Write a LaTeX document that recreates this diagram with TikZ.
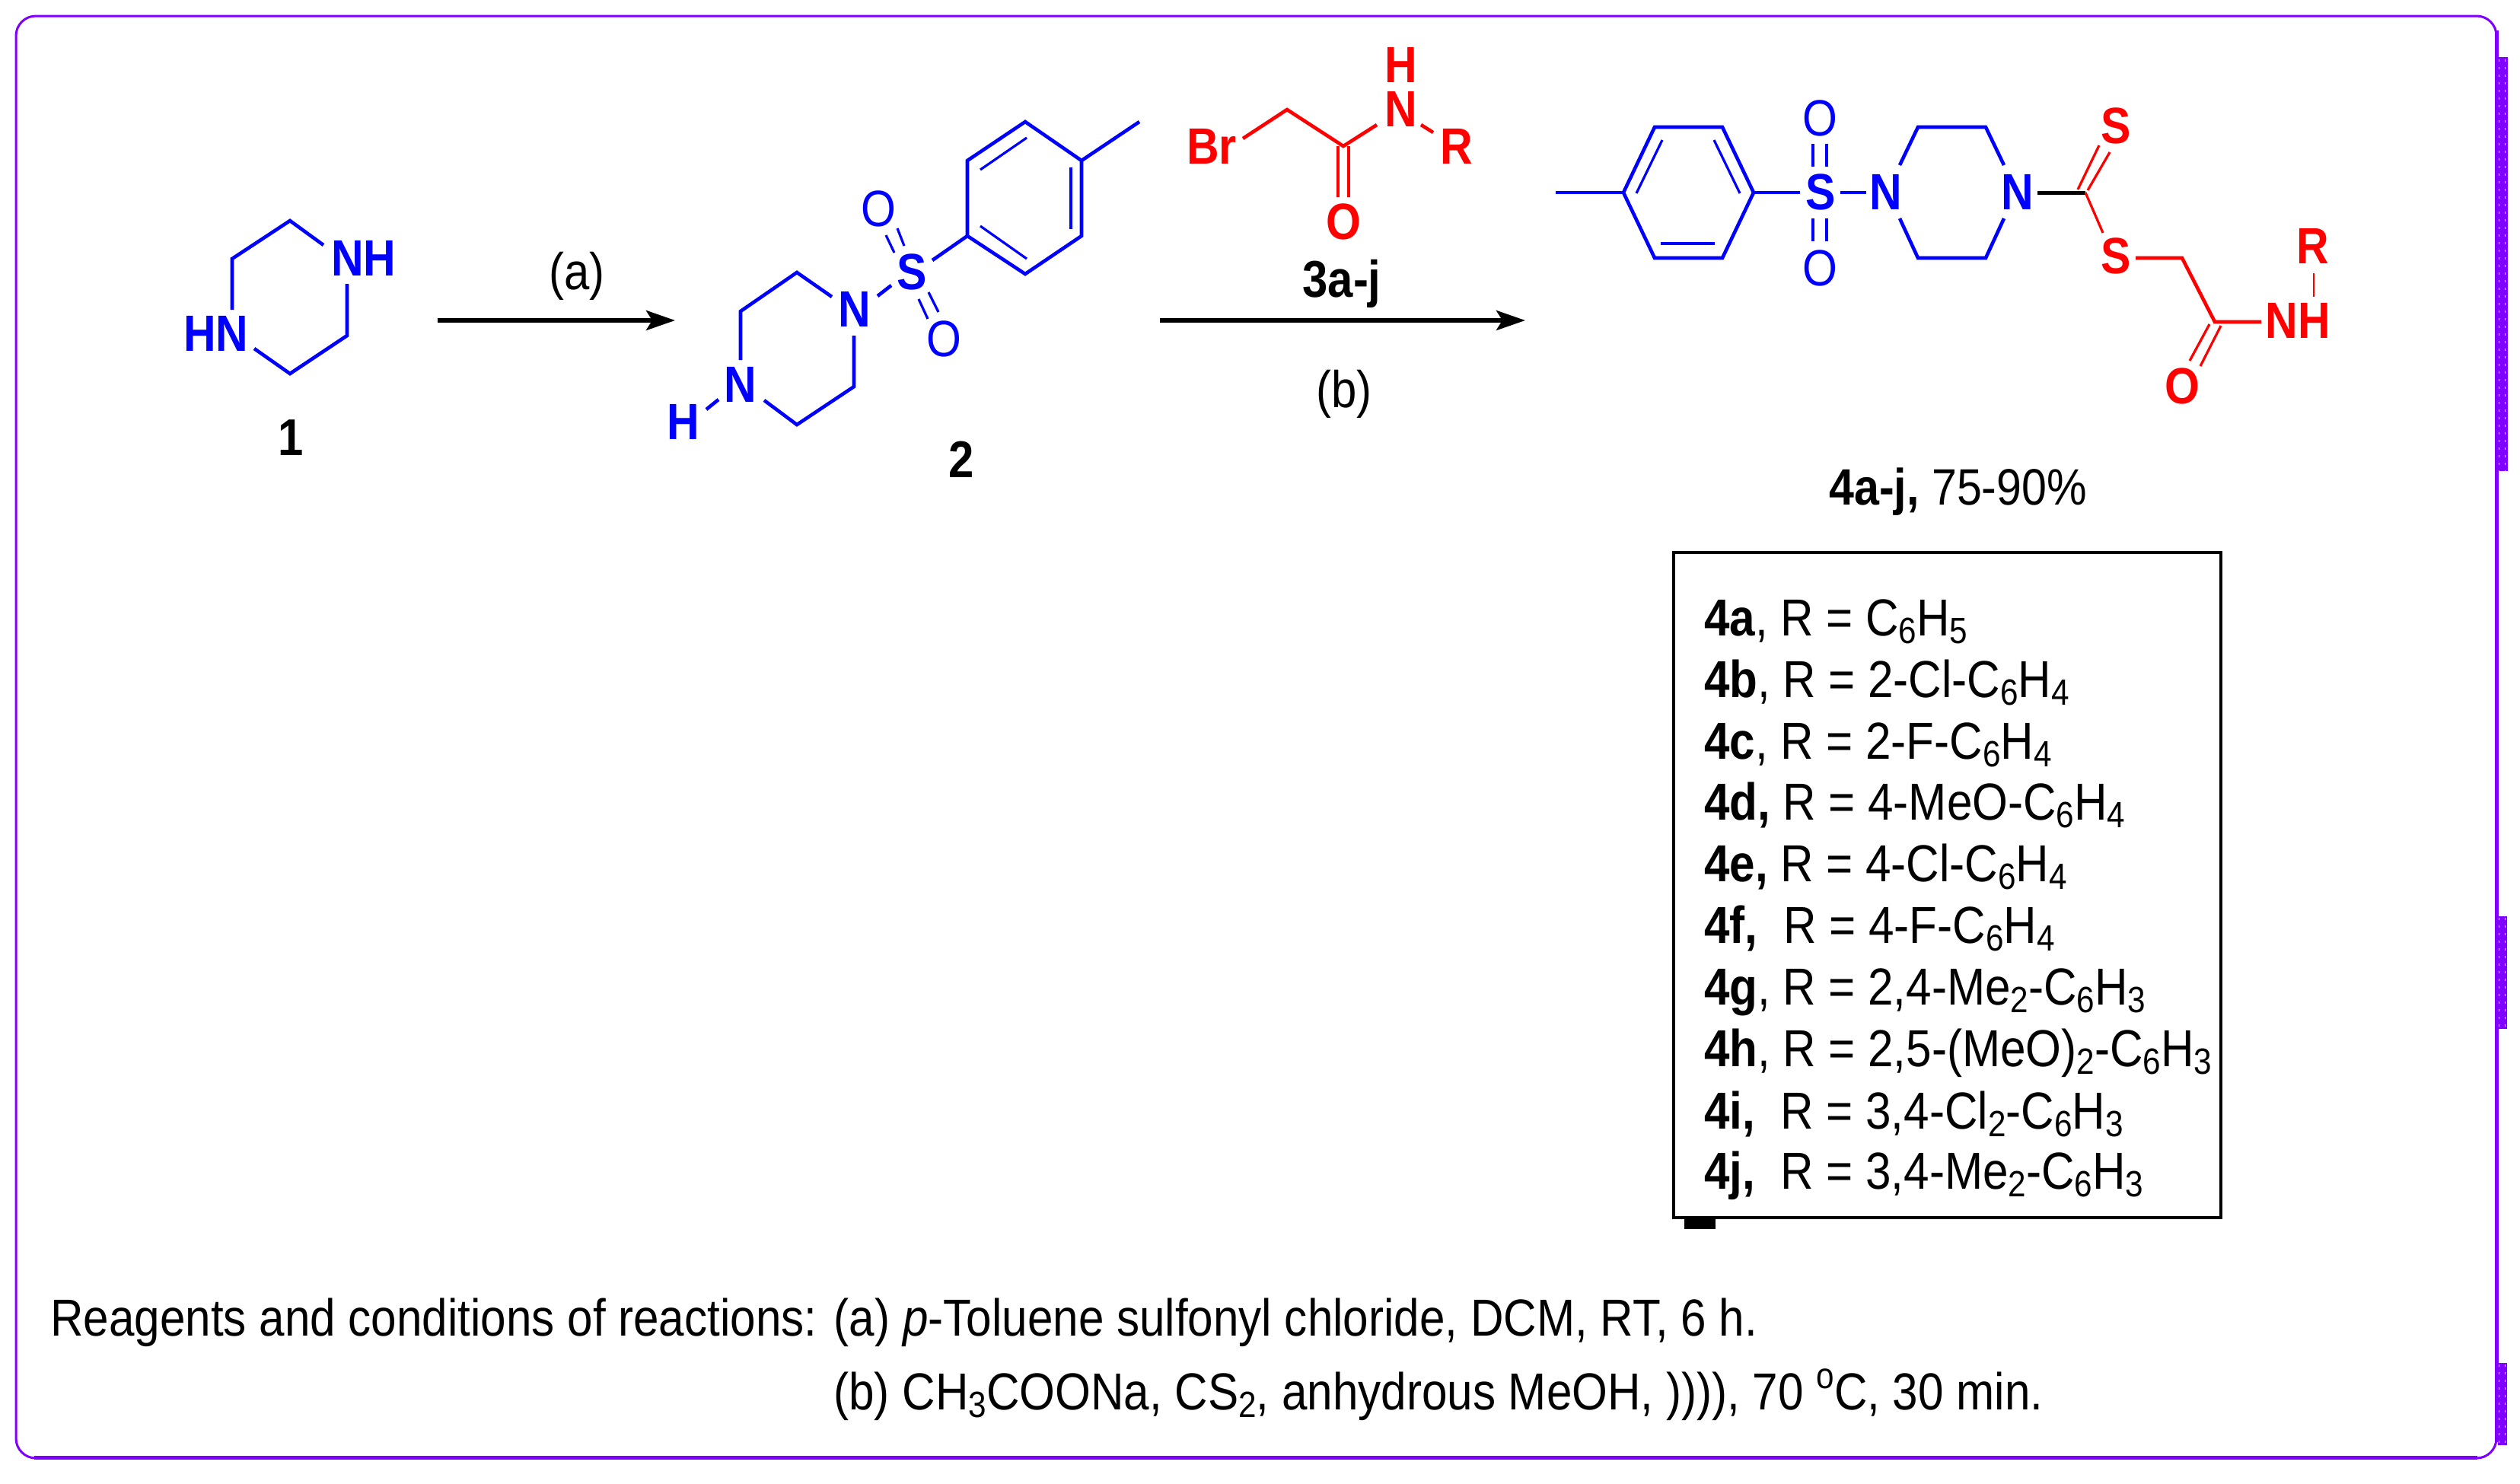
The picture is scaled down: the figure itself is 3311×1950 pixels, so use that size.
\documentclass[tikz,border=0pt]{standalone}
\usepackage{fontspec}
\setmainfont[FakeStretch=0.88]{Liberation Sans}
\usetikzlibrary{arrows.meta}
\definecolor{framepurple}{HTML}{7F00FF}
\newcommand\sbx[1]{\raisebox{-0.28ex}{\fontsize{24}{24}\selectfont #1}}
\newcommand\spx[1]{\raisebox{0.75ex}{\fontsize{24}{24}\selectfont #1}}
\tikzset{
  txt/.style={inner sep=0pt,anchor=base west,font=\fontsize{34.2}{36}\selectfont},
  lbl/.style={inner sep=0pt,font=\fontsize{34}{36}\selectfont},
  atomb/.style={inner sep=0pt,text=blue,font=\fontsize{33.5}{36}\selectfont\bfseries},
  atomo/.style={inner sep=0pt,text=blue,font=\fontsize{33.5}{36}\selectfont},
  atomr/.style={inner sep=0pt,text=red,font=\fontsize{33.5}{36}\selectfont\bfseries},
  bondb/.style={draw=blue,line width=2.3pt,line join=miter},
  bondbt/.style={draw=blue,line width=1.6pt},
  bondr/.style={draw=red,line width=2.3pt,line join=miter},
  bondrt/.style={draw=red,line width=1.6pt},
  rxn/.style={draw=black,line width=2.6pt,-{Stealth[length=19pt,width=13pt,inset=4pt]}},
  tab/.style={fill=framepurple,draw=none},
  dots/.style={draw=white,line width=0.3pt,dash pattern=on 1.5pt off 3.5pt}
}
\begin{document}
\begin{tikzpicture}[x=0.5pt,y=-0.5pt]
\useasboundingbox (0,0) rectangle (3311,1950);
\fill[white] (0,0) rectangle (3311,1950);
% frame
\draw[framepurple,line width=1.5pt,rounded corners=13pt] (21,21) rectangle (3280,1916);
\draw[framepurple,line width=2.5pt] (3280,40) -- (3280,1895);
\draw[framepurple,line width=2.5pt] (45,1915) -- (3255,1915);
\fill[tab] (3282,75) rectangle (3295,619);
\fill[tab] (3282,1204) rectangle (3294,1352);
\fill[tab] (3282,1791) rectangle (3294,1899);
\draw[dots] (3283,78) -- (3283,619);
\draw[dots] (3291,78) -- (3291,619);
\draw[dots] (3283,1206) -- (3283,1352);
\draw[dots] (3291,1206) -- (3291,1352);
\draw[dots] (3283,1793) -- (3283,1899);
\draw[dots] (3291,1793) -- (3291,1899);

% ---------- compound 1
\node[atomb] (p1NH) at (478,339) {NH};
\node[atomb] (p1HN) at (284,438) {HN};
\node[lbl,font=\fontsize{34}{36}\selectfont\bfseries] (lab1) at (382,575) {1};
\coordinate (a1) at (425,322); \coordinate (a2) at (381,290); \coordinate (a3) at (305,340);
\coordinate (a4) at (305,407); \coordinate (a5) at (334,458); \coordinate (a6) at (381,491);
\coordinate (a7) at (456,441); \coordinate (a8) at (456,373);
\draw[bondb] (a1) -- (a2) -- (a3) -- (a4);
\draw[bondb] (a5) -- (a6) -- (a7) -- (a8);

% ---------- arrow a
\coordinate (arA1) at (575,421); \coordinate (arA2) at (887,421);
\draw[rxn] (arA1) -- (arA2);
\node[lbl] (conda) at (758,363) {(a)};

% ---------- compound 2
\node[atomb] (p2N1) at (973,505) {N};
\node[atomb] (p2H) at (898,554) {H};
\node[atomb] (p2N2) at (1123,406) {N};
\node[atomb] (p2S) at (1198,357) {S};
\node[atomo] (p2O1) at (1154,274) {O};
\node[atomo] (p2O2) at (1240,445) {O};
\node[lbl,font=\fontsize{34}{36}\selectfont\bfseries] (lab2) at (1263,604) {2};
\coordinate (b1) at (1093,390); \coordinate (b2) at (1047,358); \coordinate (b3) at (973,409);
\coordinate (b4) at (973,473); \coordinate (b5) at (1004,526); \coordinate (b6) at (1047,558);
\coordinate (b7) at (1122,508); \coordinate (b8) at (1122,441);
\draw[bondb] (b1) -- (b2) -- (b3) -- (b4);
\draw[bondb] (b5) -- (b6) -- (b7) -- (b8);
\coordinate (b9) at (928,538); \coordinate (b10) at (944,525);
\draw[bondb] (b9) -- (b10);
\coordinate (b11) at (1153,389); \coordinate (b12) at (1171,375);
\draw[bondb] (b11) -- (b12);
\coordinate (d1) at (1164,309); \coordinate (d2) at (1175,332);
\coordinate (d3) at (1179,300); \coordinate (d4) at (1188,323);
\coordinate (d5) at (1207,393); \coordinate (d6) at (1219,419);
\coordinate (d7) at (1220,384); \coordinate (d8) at (1233,410);
\draw[bondbt] (d1) -- (d2); \draw[bondbt] (d3) -- (d4);
\draw[bondbt] (d5) -- (d6); \draw[bondbt] (d7) -- (d8);
\coordinate (e0) at (1225,342);
\coordinate (e1) at (1271,310); \coordinate (e2) at (1271,211); \coordinate (e3) at (1347,160);
\coordinate (e4) at (1421,211); \coordinate (e5) at (1421,310); \coordinate (e6) at (1347,360);
\coordinate (e7) at (1497,160);
\draw[bondb] (e0) -- (e1);
\draw[bondb] (e1) -- (e2) -- (e3) -- (e4) -- (e5) -- (e6) -- cycle;
\draw[bondb] (e4) -- (e7);
\coordinate (f1) at (1288,223); \coordinate (f2) at (1349,181);
\coordinate (f3) at (1407,220); \coordinate (f4) at (1407,301);
\coordinate (f5) at (1288,297); \coordinate (f6) at (1349,340);
\draw[bondbt] (f1) -- (f2); \draw[bondbt] (f3) -- (f4); \draw[bondbt] (f5) -- (f6);

% ---------- reagent 3
\node[atomr] (r3Br) at (1592,192) {Br};
\node[atomr] (r3N) at (1841,143) {N};
\node[atomr] (r3H) at (1841,85) {H};
\node[atomr] (r3R) at (1914,192) {R};
\node[atomr] (r3O) at (1765,291) {O};
\coordinate (g1) at (1633,182); \coordinate (g2) at (1691,144); \coordinate (g3) at (1765,192);
\coordinate (g4) at (1809,164); \coordinate (g5) at (1867,164); \coordinate (g6) at (1883,174);
\coordinate (g7) at (1758,192); \coordinate (g8) at (1758,259);
\coordinate (g9) at (1772,192); \coordinate (g10) at (1772,259);
\draw[bondr] (g1) -- (g2) -- (g3) -- (g4);
\draw[bondr] (g5) -- (g6);
\draw[bondrt] (g7) -- (g8); \draw[bondrt] (g9) -- (g10);
\node[lbl,font=\fontsize{34}{36}\selectfont\bfseries,anchor=base] (lab3) at (1763,390) {3a-j};

% ---------- arrow b
\coordinate (arB1) at (1524,421); \coordinate (arB2) at (2004,421);
\draw[rxn] (arB1) -- (arB2);
\node[lbl] (condb) at (1766,518) {(b)};

% ---------- product 4
\node[atomb] (p4S) at (2392,252) {S};
\node[atomo] (p4O1) at (2391,155) {O};
\node[atomo] (p4O2) at (2391,352) {O};
\node[atomb] (p4N1) at (2478,252) {N};
\node[atomb] (p4N2) at (2651,252) {N};
\node[atomr] (p4S1) at (2780,165) {S};
\node[atomr] (p4S2) at (2780,336) {S};
\node[atomr] (p4O3) at (2867,507) {O};
\node[atomr] (p4NH) at (3019,421) {NH};
\node[atomr] (p4R) at (3039,323) {R};
\coordinate (h0) at (2044,253); \coordinate (h1) at (2133,253); \coordinate (h2) at (2174,167);
\coordinate (h3) at (2263,167); \coordinate (h4) at (2304,253); \coordinate (h5) at (2263,339);
\coordinate (h6) at (2174,339); \coordinate (h7) at (2365,253);
\draw[bondb] (h0) -- (h1);
\draw[bondb] (h1) -- (h2) -- (h3) -- (h4) -- (h5) -- (h6) -- cycle;
\draw[bondb] (h4) -- (h7);
\coordinate (i1) at (2150,254); \coordinate (i2) at (2184,184);
\coordinate (i3) at (2286,254); \coordinate (i4) at (2252,184);
\coordinate (i5) at (2182,320); \coordinate (i6) at (2253,320);
\draw[bondbt] (i1) -- (i2); \draw[bondbt] (i3) -- (i4); \draw[bondb] (i5) -- (i6);
\coordinate (j1) at (2382,189); \coordinate (j2) at (2382,219);
\coordinate (j3) at (2400,189); \coordinate (j4) at (2400,219);
\coordinate (j5) at (2382,287); \coordinate (j6) at (2382,317);
\coordinate (j7) at (2400,287); \coordinate (j8) at (2400,317);
\draw[bondbt] (j1) -- (j2); \draw[bondbt] (j3) -- (j4);
\draw[bondbt] (j5) -- (j6); \draw[bondbt] (j7) -- (j8);
\coordinate (k1) at (2418,253); \coordinate (k2) at (2452,253);
\draw[bondb] (k1) -- (k2);
\coordinate (m1) at (2496,217); \coordinate (m2) at (2520,167); \coordinate (m3) at (2609,167); \coordinate (m4) at (2633,217);
\coordinate (m5) at (2496,287); \coordinate (m6) at (2520,339); \coordinate (m7) at (2609,339); \coordinate (m8) at (2633,287);
\draw[bondb] (m1) -- (m2) -- (m3) -- (m4);
\draw[bondb] (m5) -- (m6) -- (m7) -- (m8);
\coordinate (n1) at (2677,253); \coordinate (n2) at (2740,253);
\draw[draw=black,line width=2.5pt] (n1) -- (n2);
\coordinate (o1) at (2730,249); \coordinate (o2) at (2758,191);
\coordinate (o3) at (2743,250); \coordinate (o4) at (2772,200);
\coordinate (o5) at (2763,306);
\draw[bondrt] (o1) -- (o2); \draw[bondrt] (o3) -- (o4);
\draw[bondrt] (n2) -- (o5);
\coordinate (q1) at (2806,339); \coordinate (q2) at (2867,339); \coordinate (q3) at (2910,423); \coordinate (q4) at (2971,423);
\draw[bondr] (q1) -- (q2) -- (q3) -- (q4);
\coordinate (q5) at (2903,426); \coordinate (q6) at (2877,474);
\coordinate (q7) at (2918,428); \coordinate (q8) at (2891,481);
\draw[bondrt] (q5) -- (q6); \draw[bondrt] (q7) -- (q8);
\coordinate (q9) at (3040,359); \coordinate (q10) at (3040,390);
\draw[draw=red,line width=1pt] (q9) -- (q10);
\node[txt,font=\fontsize{33.6}{36}\selectfont] (lab4) at (2403,663) {\textbf{4a-j,} 75-90\%};

% ---------- list box
\draw[black,line width=1.7pt] (2199,726) rectangle (2918,1600);
\fill[black] (2213,1602) rectangle (2254,1615);
\node[txt] (r4a) at (2239,835) {\makebox[50pt][l]{\textbf{4a},}R = C\sbx{6}H\sbx{5}};
\node[txt] (r4b) at (2239,916) {\makebox[51.5pt][l]{\textbf{4b},}R = 2-Cl-C\sbx{6}H\sbx{4}};
\node[txt] (r4c) at (2239,997) {\makebox[50pt][l]{\textbf{4c},}R = 2-F-C\sbx{6}H\sbx{4}};
\node[txt] (r4d) at (2239,1077) {\makebox[51.5pt][l]{\textbf{4d,}}R = 4-MeO-C\sbx{6}H\sbx{4}};
\node[txt] (r4e) at (2239,1158) {\makebox[50pt][l]{\textbf{4e,}}R = 4-Cl-C\sbx{6}H\sbx{4}};
\node[txt] (r4f) at (2239,1239) {\makebox[52pt][l]{\textbf{4f,}}R = 4-F-C\sbx{6}H\sbx{4}};
\node[txt] (r4g) at (2239,1320) {\makebox[51.5pt][l]{\textbf{4g},}R = 2,4-Me\sbx{2}-C\sbx{6}H\sbx{3}};
\node[txt] (r4h) at (2239,1401) {\makebox[51.5pt][l]{\textbf{4h},}R = 2,5-(MeO)\sbx{2}-C\sbx{6}H\sbx{3}};
\node[txt] (r4i) at (2239,1483) {\makebox[50pt][l]{\textbf{4i,}}R = 3,4-Cl\sbx{2}-C\sbx{6}H\sbx{3}};
\node[txt] (r4j) at (2239,1562) {\makebox[50pt][l]{\textbf{4j,}}R = 3,4-Me\sbx{2}-C\sbx{6}H\sbx{3}};

% ---------- conditions
\node[txt] (cap1) at (66,1755) {Reagents and conditions of reactions: (a) \textit{p}-Toluene sulfonyl chloride, DCM, RT, 6 h.};
\node[txt] (cap2) at (1095,1852) {(b) CH\sbx{3}COONa, CS\sbx{2}, anhydrous MeOH, )))), 70 \spx{o}C, 30 min.};
\end{tikzpicture}
\end{document}
